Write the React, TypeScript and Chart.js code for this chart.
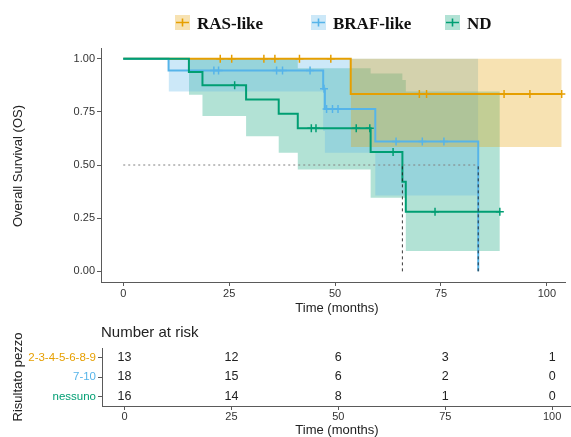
import React, { useEffect, useRef } from 'react';
import { Chart, registerables } from 'chart.js';
Chart.register(...registerables);

// ---------- data ----------
const groups = ['RAS-like', 'BRAF-like', 'ND'];
const strataLabels = ['2-3-4-5-6-8-9', '7-10', 'nessuno'];
const colors = ['#E69F00', '#56B4E9', '#009E73'];
const fills = ['rgba(230,159,0,0.3)', 'rgba(86,180,233,0.3)', 'rgba(0,158,115,0.3)'];

const rasTime = [0, 53.7, 103.5];
const rasSurv = [1, 0.8333, 0.8333];
const rasCensor = [22.9, 25.6, 33.2, 35.8, 41.6, 49.0, 69.9, 71.6, 89.9, 96.0, 103.5];
const rasCiTime = [53.7, 103.5];
const rasCiUpper = [1, 1];
const rasCiLower = [0.585, 0.585];

const brafTime = [0, 10.7, 47.2, 47.6, 59.5, 83.8];
const brafSurv = [1, 0.9444, 0.8586, 0.7632, 0.6105, 0];
const brafCensor = [21.4, 22.5, 36.2, 37.6, 44.1, 47.4, 48.0, 49.4, 50.7, 64.4, 70.6, 75.7];
const brafCiTime = [10.7, 47.2, 47.6, 59.5, 83.8];
const brafCiUpper = [1, 1, 1, 1, 1];
const brafCiLower = [0.845, 0.66, 0.557, 0.357, 0.357];

const ndTime = [0, 15.5, 18.7, 29.0, 36.7, 41.2, 58.4, 65.9, 66.7, 88.9];
const ndSurv = [1, 0.9375, 0.875, 0.8077, 0.7404, 0.6731, 0.5609, 0.4207, 0.2804, 0.2804];
const ndCensor = [26.3, 44.4, 45.5, 55.0, 58.2, 63.7, 73.6, 88.9];
const ndCiTime = [15.5, 18.7, 29.0, 36.7, 41.2, 58.4, 65.9, 66.7, 88.9];
const ndCiUpper = [1, 1, 1, 1, 0.955, 0.93, 0.9, 0.845, 0.845];
const ndCiLower = [0.83, 0.73, 0.635, 0.557, 0.479, 0.346, 0.346, 0.096, 0.096];

const riskTimes = [0, 25, 50, 75, 100];
const riskRas = [13, 12, 6, 3, 1];
const riskBraf = [18, 15, 6, 2, 0];
const riskNd = [16, 14, 8, 1, 0];

const xTicks = [0, 25, 50, 75, 100];
const yTicks = [0, 0.25, 0.5, 0.75, 1];

// ---------- helpers ----------
const FONT = "'Liberation Sans', Arial, Helvetica, sans-serif";
const SERIF = "'Liberation Serif', 'Times New Roman', serif";
const pts = (xs: number[], ys: number[]) => xs.map((x, i) => ({ x, y: ys[i] }));
function survAt(times: number[], surv: number[], t: number) {
  let v = surv[0];
  for (let i = 0; i < times.length; i++) if (times[i] <= t) v = surv[i];
  return v;
}
function medianOf(times: number[], surv: number[]) {
  for (let i = 0; i < surv.length; i++) if (surv[i] <= 0.5) return times[i];
  return null;
}

const series = [
  { time: rasTime, surv: rasSurv, censor: rasCensor, ciTime: rasCiTime, ciUp: rasCiUpper, ciLo: rasCiLower },
  { time: brafTime, surv: brafSurv, censor: brafCensor, ciTime: brafCiTime, ciUp: brafCiUpper, ciLo: brafCiLower },
  { time: ndTime, surv: ndSurv, censor: ndCensor, ciTime: ndCiTime, ciUp: ndCiUpper, ciLo: ndCiLower },
];
const riskRows = [riskRas, riskBraf, riskNd];

const X_MIN = -5.25;
const X_MAX = 104.4;
const AXIS = '#5a5a5a';
const TICK_TXT = '#333333';

export default function App() {
  const mainRef = useRef<HTMLCanvasElement>(null);
  const tableRef = useRef<HTMLCanvasElement>(null);

  useEffect(() => {
    const datasets: any[] = [];
    series.forEach((s, k) => {
      datasets.push({
        type: 'line', data: pts(s.ciTime, s.ciUp), borderWidth: 0, borderColor: 'rgba(0,0,0,0)',
        pointRadius: 0, stepped: true, fill: '+1', backgroundColor: fills[k], order: 40 + k,
      });
      datasets.push({
        type: 'line', data: pts(s.ciTime, s.ciLo), borderWidth: 0, borderColor: 'rgba(0,0,0,0)',
        pointRadius: 0, stepped: true, fill: false, order: 40 + k,
      });
    });
    series.forEach((s, k) => {
      datasets.push({
        type: 'line', data: pts(s.time, s.surv), borderColor: colors[k], borderWidth: 2,
        stepped: true, pointRadius: 0, fill: false, order: 20 + (2 - k),
      });
      datasets.push({
        type: 'line', data: s.censor.map((t) => ({ x: t, y: survAt(s.time, s.surv, t) })),
        showLine: false, pointStyle: 'cross', pointRadius: 4, pointBorderColor: colors[k],
        pointBackgroundColor: colors[k], pointBorderWidth: 1.5, fill: false, order: 10 + (2 - k),
      });
    });
    const medians = series.map((s) => medianOf(s.time, s.surv)).filter((m) => m !== null) as number[];
    if (medians.length) {
      datasets.push({
        type: 'line', data: [{ x: 0, y: 0.5 }, { x: Math.max(...medians), y: 0.5 }],
        borderColor: '#808080', borderWidth: 1, borderDash: [2, 3], pointRadius: 0, fill: false, order: 1,
      });
      medians.forEach((m) => {
        datasets.push({
          type: 'line', data: [{ x: m, y: 0 }, { x: m, y: 0.5 }],
          borderColor: '#222', borderWidth: 0.9, borderDash: [3, 3], pointRadius: 0, fill: false, order: 0,
        });
      });
    }

    const mainDeco = {
      id: 'mainDeco',
      afterDraw(chart: any) {
        const ctx = chart.ctx;
        ctx.save();
        // legend
        const patchX = [175, 311, 445];
        groups.forEach((g, k) => {
          const x = patchX[k];
          const y = 15;
          ctx.fillStyle = fills[k];
          ctx.fillRect(x, y, 15, 15);
          ctx.strokeStyle = colors[k];
          ctx.lineWidth = 1.6;
          ctx.beginPath();
          ctx.moveTo(x + 1, y + 7.5);
          ctx.lineTo(x + 14, y + 7.5);
          ctx.moveTo(x + 7.5, y + 3.5);
          ctx.lineTo(x + 7.5, y + 11.5);
          ctx.stroke();
          ctx.fillStyle = '#111';
          ctx.font = `bold 17px ${SERIF}`;
          ctx.textAlign = 'left';
          ctx.textBaseline = 'alphabetic';
          ctx.fillText(g, x + 22, 29);
        });
        // axis titles
        ctx.fillStyle = '#222';
        ctx.font = `13px ${FONT}`;
        ctx.textAlign = 'center';
        ctx.textBaseline = 'middle';
        ctx.fillText('Time (months)', 337, 308);
        ctx.translate(18, 166);
        ctx.rotate(-Math.PI / 2);
        ctx.fillText('Overall Survival (OS)', 0, 0);
        ctx.restore();
      },
    };

    const main = new Chart(mainRef.current as HTMLCanvasElement, {
      type: 'line',
      data: { datasets },
      options: {
        responsive: false, animation: false, devicePixelRatio: 1,
        layout: { padding: { top: 48, left: 0, right: 0, bottom: 0 } },
        plugins: { legend: { display: false }, tooltip: { enabled: false } },
        scales: {
          x: {
            type: 'linear', min: X_MIN, max: X_MAX,
            afterBuildTicks: (s: any) => { s.ticks = xTicks.map((v) => ({ value: v })); },
            afterFit: (s: any) => { s.height = 36; },
            grid: { display: true, drawOnChartArea: false, drawTicks: true, tickLength: 4, color: AXIS },
            border: { display: true, color: AXIS, width: 1 },
            ticks: { color: TICK_TXT, font: { family: FONT, size: 11 }, padding: 1.5, maxRotation: 0, callback: (v: any) => String(v) },
          },
          y: {
            type: 'linear', min: -0.05, max: 1.05,
            afterBuildTicks: (s: any) => { s.ticks = yTicks.map((v) => ({ value: v })); },
            afterFit: (s: any) => { s.width = 101; },
            grid: { display: true, drawOnChartArea: false, drawTicks: true, tickLength: 4, color: AXIS },
            border: { display: true, color: AXIS, width: 1 },
            ticks: { color: TICK_TXT, font: { family: FONT, size: 11 }, padding: 2, callback: (v: any) => Number(v).toFixed(2) },
          },
        },
      },
      plugins: [mainDeco],
    } as any);

    // ---------- risk table ----------
    const tDatasets = riskRows.map((row, k) => ({
      type: 'line', data: riskTimes.map((t, i) => ({ x: t, y: k + 1, n: row[i] })),
      showLine: false, pointRadius: 0, borderColor: 'rgba(0,0,0,0)',
    }));
    const tableDeco = {
      id: 'tableDeco',
      afterDatasetsDraw(chart: any) {
        const ctx = chart.ctx;
        ctx.save();
        ctx.fillStyle = '#222';
        ctx.font = `12.5px ${FONT}`;
        ctx.textAlign = 'center';
        ctx.textBaseline = 'middle';
        chart.data.datasets.forEach((ds: any, k: number) => {
          const meta = chart.getDatasetMeta(k);
          meta.data.forEach((el: any, i: number) => {
            ctx.fillText(String(ds.data[i].n), el.x, el.y);
          });
        });
        ctx.font = `15px ${FONT}`;
        ctx.textAlign = 'left';
        ctx.fillText('Number at risk', 101, 15);
        ctx.font = `13px ${FONT}`;
        ctx.textAlign = 'center';
        ctx.fillText('Time (months)', 337, 112);
        ctx.translate(18, 59);
        ctx.rotate(-Math.PI / 2);
        ctx.fillText('Risultato pezzo', 0, 0);
        ctx.restore();
      },
    };
    const table = new Chart(tableRef.current as HTMLCanvasElement, {
      type: 'line',
      data: { datasets: tDatasets },
      options: {
        responsive: false, animation: false, devicePixelRatio: 1,
        layout: { padding: { top: 30, left: 0, right: 0, bottom: 0 } },
        plugins: { legend: { display: false }, tooltip: { enabled: false } },
        scales: {
          x: {
            type: 'linear', min: X_MIN, max: X_MAX,
            afterBuildTicks: (s: any) => { s.ticks = xTicks.map((v) => ({ value: v })); },
            afterFit: (s: any) => { s.height = 31; },
            grid: { display: true, drawOnChartArea: false, drawTicks: true, tickLength: 4, color: AXIS },
            border: { display: true, color: AXIS, width: 1 },
            ticks: { color: TICK_TXT, font: { family: FONT, size: 11 }, padding: 0.5, maxRotation: 0, callback: (v: any) => String(v) },
          },
          y: {
            type: 'linear', min: 0.5, max: 3.5, reverse: true,
            afterBuildTicks: (s: any) => { s.ticks = [1, 2, 3].map((v) => ({ value: v })); },
            afterFit: (s: any) => { s.width = 102; },
            grid: { display: true, drawOnChartArea: false, drawTicks: true, tickLength: 4, color: AXIS },
            border: { display: true, color: AXIS, width: 1 },
            ticks: {
              color: (c: any) => colors[c.index] || TICK_TXT,
              font: { family: FONT, size: 11.5 }, padding: 2,
              callback: (v: any) => strataLabels[Number(v) - 1],
            },
          },
        },
      },
      plugins: [tableDeco],
    } as any);

    return () => { main.destroy(); table.destroy(); };
  }, []);

  return (
    <div style={{ position: 'fixed', left: 0, top: 0, width: 571, height: 437, background: '#fff' }}>
      <canvas ref={mainRef} width={571} height={318} style={{ position: 'absolute', left: 0, top: 0, display: 'block' }} />
      <canvas ref={tableRef} width={571} height={119} style={{ position: 'absolute', left: 0, top: 318, display: 'block' }} />
    </div>
  );
}
